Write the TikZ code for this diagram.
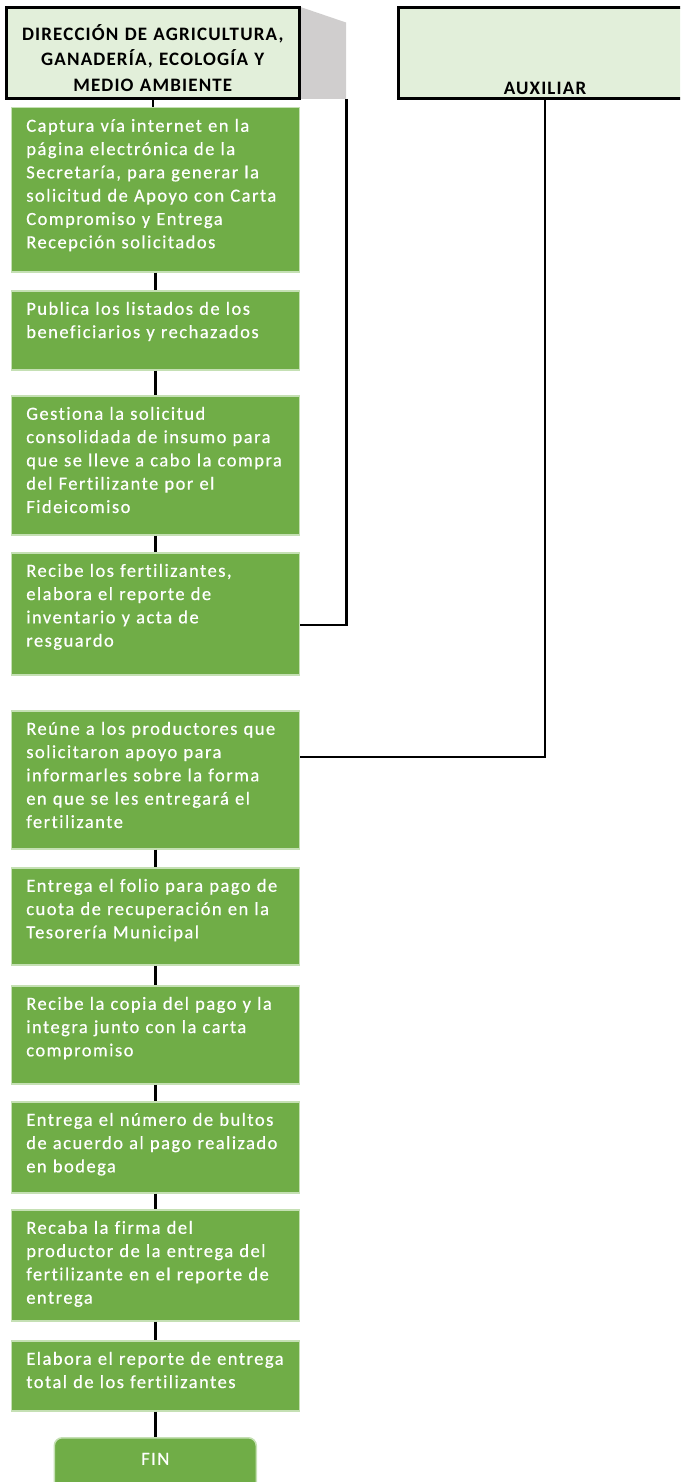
\documentclass[tikz,border=0pt]{standalone}
\usepackage{fontspec}
\setmainfont{Carlito}
\newfontfamily\pasofont[LetterSpace=8,WordSpace=0.6,Ligatures=NoCommon,FakeBold=0.6]{Carlito}
\newfontfamily\titulofont[LetterSpace=6,WordSpace=0.6,Ligatures=NoCommon]{Carlito}
\definecolor{verdepaso}{HTML}{70AD47}
\definecolor{bordepaso}{HTML}{C5E0B4}
\definecolor{verdeclaro}{HTML}{E2EFDA}
\definecolor{gris}{HTML}{D0CECE}

\begin{document}
\begin{tikzpicture}[x=1pt,y=-1pt,
		encabezado/.style={rectangle,line width=3pt,draw=black,fill=verdeclaro,anchor=north,
			inner sep=0pt,align=center,text width=290pt,minimum width=293pt,
			text height=32.5pt,text depth=58.5pt,
			font=\titulofont\bfseries\fontsize{19}{25.5}\selectfont},
		paso/.style={rectangle,line width=1.5pt,draw=bordepaso,fill=verdepaso,text=white,anchor=north,
			align=left,text width=258pt,inner xsep=15pt,inner ysep=0pt,text height=24pt,text depth=#1,
			font=\pasofont\fontsize{18.5}{23.3}\selectfont},
		fin/.style={rectangle,rounded corners=8pt,line width=1.5pt,draw=bordepaso,fill=verdepaso,text=white,
			anchor=north,inner sep=0pt,minimum width=202pt,text height=27pt,text depth=30pt,
			font=\pasofont\fontsize{18.5}{23.3}\selectfont},
		linea/.style={line width=2.5pt,draw=black}]
		\clip (0,0) rectangle (680,1482);

		\fill[gris] (300.5,7) -- (346,22.5) -- (346,99) -- (300.5,99) -- cycle;
		\coordinate (pliegue) at (346.5,99);

		\node[encabezado] (enc1) at (152.75,6.5)
			{DIRECCIÓN DE AGRICULTURA,\\GANADERÍA, ECOLOGÍA Y\\MEDIO AMBIENTE};
		\node[encabezado,text height=86.5pt,text depth=4.5pt] (enc2) at (545,6.5) {AUXILIAR};

		\node[paso=140pt] (p1) at (155.3,107) {Captura vía internet en la\\página electrónica de la\\Secretaría, para generar la\\solicitud de Apoyo con Carta\\Compromiso y Entrega\\Recepción solicitados};
		\node[paso=55pt] (p2) at (155.3,290) {Publica los listados de los\\beneficiarios y rechazados};
		\node[paso=115pt] (p3) at (155.3,395) {Gestiona la solicitud\\consolidada de insumo para\\que se lleve a cabo la compra\\del Fertilizante por el\\Fideicomiso};
		\node[paso=98pt] (p4) at (155.3,552) {Recibe los fertilizantes,\\elabora el reporte de\\inventario y acta de\\resguardo};

		\node[paso=114pt] (p5) at (155.3,710) {Reúne a los productores que\\solicitaron apoyo para\\informarles sobre la forma\\en que se les entregará el\\fertilizante};
		\node[paso=73pt] (p6) at (155.3,867) {Entrega el folio para pago de\\cuota de recuperación en la\\Tesorería Municipal};
		\node[paso=74pt] (p7) at (155.3,985) {Recibe la copia del pago y la\\integra junto con la carta\\compromiso};
		\node[paso=67pt] (p8) at (155.3,1101) {Entrega el número de bultos\\de acuerdo al pago realizado\\en bodega};
		\node[paso=87pt] (p9) at (155.3,1209) {Recaba la firma del\\productor de la entrega del\\fertilizante en el reporte de\\entrega};
		\node[paso=46pt] (p10) at (155.3,1340) {Elabora el reporte de entrega\\total de los fertilizantes};

		\node[fin] (fin) at (155.3,1437) {FIN};

		\path[linea] (enc1.south) edge (enc1.south |- p1.north);
		\path[linea] (p1) edge (p2);
		\path[linea] (p2) edge (p3);
		\path[linea] (p3) edge (p4);
		\path[linea] (p5) edge (p6);
		\path[linea] (p6) edge (p7);
		\path[linea] (p7) edge (p8);
		\path[linea] (p8) edge (p9);
		\path[linea] (p9) edge (p10);
		\path[linea] (p10) edge (fin);

		\draw[linea] (pliegue) |- ([yshift=-11pt]p4.east);
		\draw[linea] (enc2.south) |- ([yshift=23pt]p5.east);
	\end{tikzpicture}
\end{document}
